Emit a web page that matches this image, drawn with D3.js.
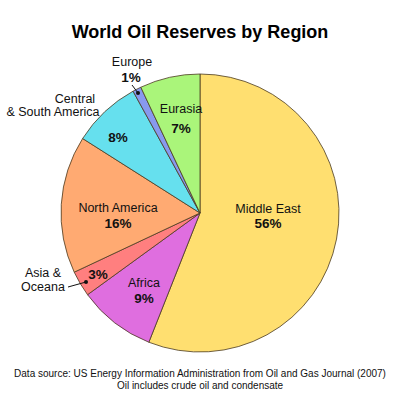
<!DOCTYPE html>
<html><head><meta charset="utf-8">
<script src="https://cdn.jsdelivr.net/npm/d3@7"></script>
<style>body{margin:0;background:#fff}svg{display:block}text{font-family:"Liberation Sans",Arial,sans-serif}</style>
</head><body>
<script>
const regions = ["Middle East","Africa","Asia & Oceana","North America","Central & South America","Europe","Eurasia"];
const shares = [56, 9, 3, 16, 8, 1, 7];
const colors = ["#FFDF70","#DF6EDF","#FF7F7F","#FFAA72","#66E0EE","#8899EE","#AAF57A"];
const labelLines = [["Middle East"],["Africa"],["Asia &","Oceana"],["North America"],["Central","& South America"],["Europe"],["Eurasia"]];
const title = "World Oil Reserves by Region";
const footer = ["Data source: US Energy Information Administration from Oil and Gas Journal (2007)","Oil includes crude oil and condensate"];

const W=400,H=400, cx=200, cy=213, R=139;
const svg=d3.select("body").append("svg").attr("width",W).attr("height",H);
svg.append("rect").attr("width",W).attr("height",H).attr("fill","#fff");
svg.append("text").attr("x",200).attr("y",38).attr("text-anchor","middle")
  .attr("font-size",18).attr("font-weight","bold").text(title);

const data = regions.map((r,i)=>({name:r,value:shares[i],color:colors[i],lines:labelLines[i]}));
const pie=d3.pie().value(d=>d.value).sort(null);
const arcs=pie(data);
const arc=d3.arc().innerRadius(0).outerRadius(R);
const g=svg.append("g").attr("transform",`translate(${cx},${cy})`);
g.selectAll("path").data(arcs).enter().append("path")
  .attr("d",arc).attr("fill",d=>d.data.color).attr("stroke","#4a3a20").attr("stroke-width",0.8).attr("stroke-linejoin","round");

const lab = {
  "Middle East": {name:[[268,213]], pct:[268,228], anchor:"middle"},
  "Africa": {name:[[144,287]], pct:[144,303], anchor:"middle"},
  "Asia & Oceana": {name:[[43,277],[43,291]], pct:[98,279], anchor:"middle", leader:[[68,287],[86,282]]},
  "North America": {name:[[118,212]], pct:[118,228], anchor:"middle"},
  "Central & South America": {name:[[75,103],[53,116]], pct:[118,142], anchor:"middle"},
  "Europe": {name:[[132,66]], pct:[131,82], anchor:"middle", leader:[[132,85],[138,93]]},
  "Eurasia": {name:[[181,113]], pct:[181,133], anchor:"middle"}
};
arcs.forEach(a=>{
  const L=lab[a.data.name];
  a.data.lines.forEach((t,i)=>{
    svg.append("text").attr("x",L.name[i][0]).attr("y",L.name[i][1]).attr("text-anchor",L.anchor)
      .attr("font-size",12.5).attr("fill","#111").text(t);
  });
  svg.append("text").attr("x",L.pct[0]).attr("y",L.pct[1]).attr("text-anchor","middle")
    .attr("font-size",13.5).attr("font-weight","bold").attr("fill","#111").text(Math.round(a.data.value)+"%");
  if(L.leader){
    svg.append("line").attr("x1",L.leader[0][0]).attr("y1",L.leader[0][1]).attr("x2",L.leader[1][0]).attr("y2",L.leader[1][1])
      .attr("stroke","#111").attr("stroke-width",1);
    svg.append("circle").attr("cx",L.leader[1][0]).attr("cy",L.leader[1][1]).attr("r",2).attr("fill","#111");
  }
});
footer.forEach((t,i)=>svg.append("text").attr("x",200).attr("y",377+i*11.5).attr("text-anchor","middle")
  .attr("font-size",10).attr("fill","#111").text(t));
</script>
</body></html>
